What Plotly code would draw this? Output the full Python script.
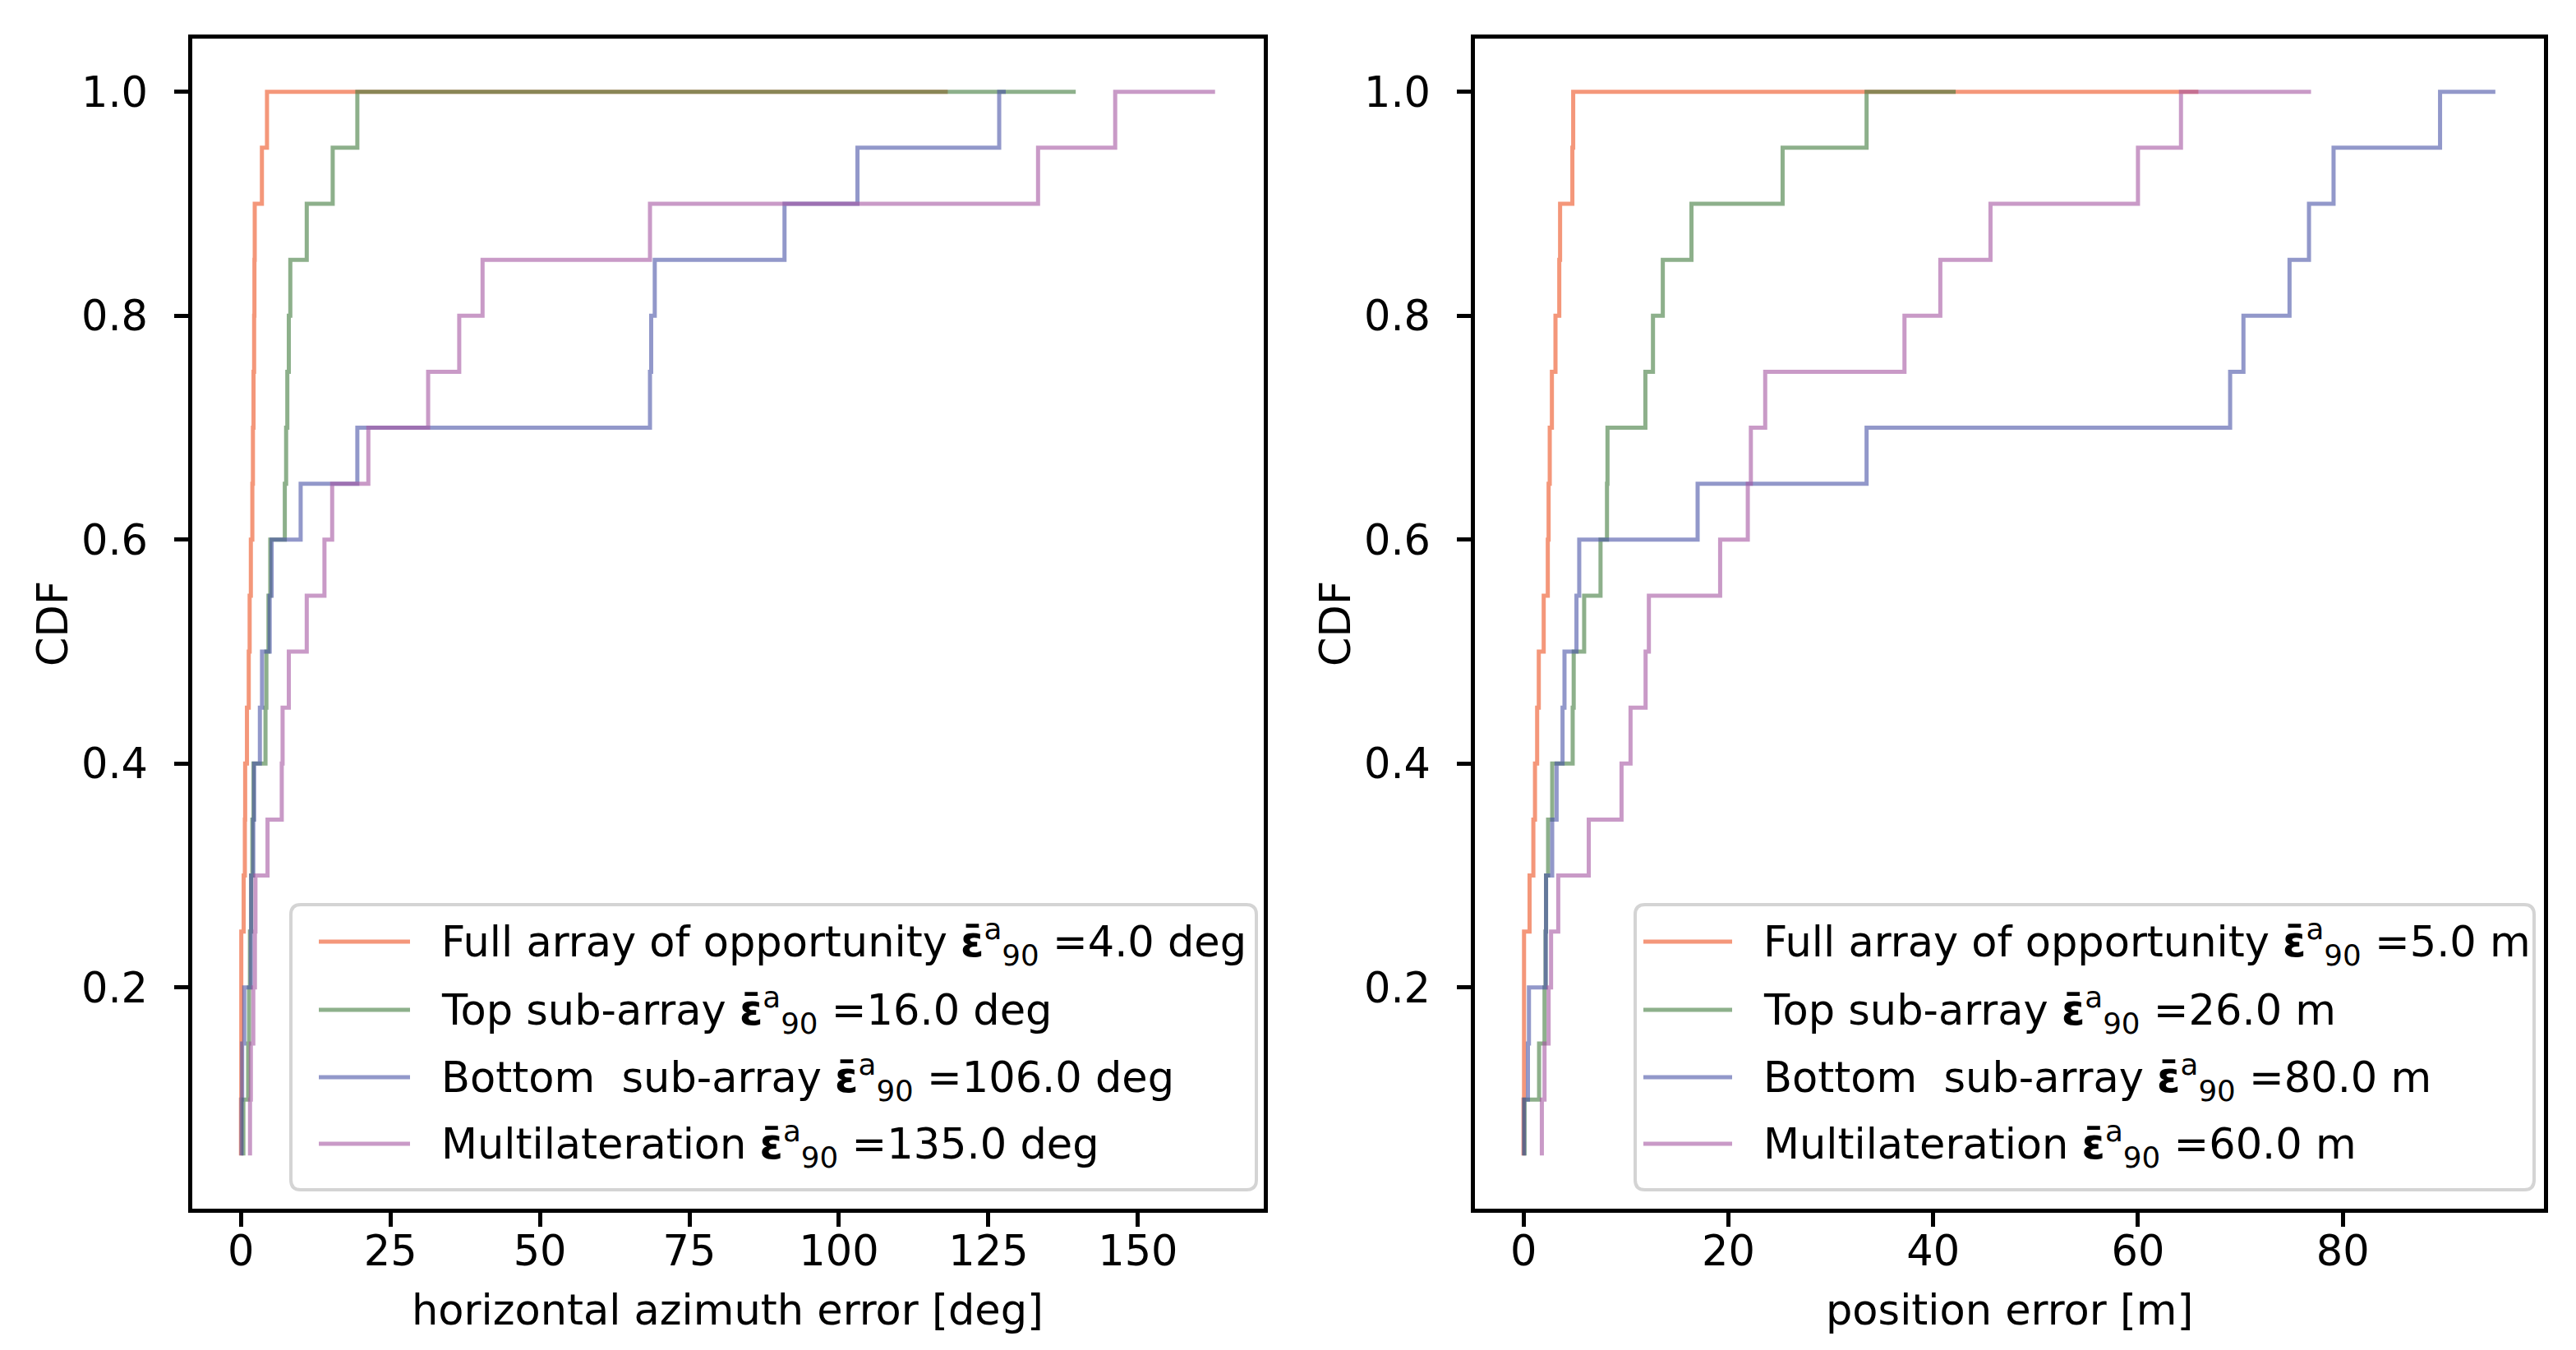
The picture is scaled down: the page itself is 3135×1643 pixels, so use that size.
import numpy as np
import plotly.graph_objects as go

W, H = 3135, 1643
FONT = "DejaVu Sans"
FS = 51

# ---------------- data (sorted error samples, 20 runs each) ----------------
levels = [(i + 1) / 20 for i in range(20)]

# horizontal azimuth error [deg]
az_full = [0.0, 0.05, 0.05, 0.05, 0.45, 0.65, 0.7, 1.0, 1.3, 1.45, 1.65, 1.9, 2.0, 2.1, 2.2, 2.25, 2.3, 3.5, 4.35, 118.2]
az_top = [0.4, 1.2, 1.35, 1.5, 1.7, 1.9, 2.1, 4.1, 4.25, 4.6, 4.9, 7.33, 7.55, 7.75, 8.0, 8.25, 11.0, 15.34, 19.46, 139.6]
az_bottom = [0.1, 0.2, 0.55, 1.65, 1.7, 2.06, 2.2, 3.16, 3.52, 4.8, 5.13, 9.98, 19.46, 68.4, 68.6, 69.2, 90.9, 103.1, 126.8, 127.9]
az_multi = [1.51, 1.65, 2.06, 2.33, 2.42, 4.44, 6.82, 6.96, 8.0, 11.0, 13.96, 15.25, 21.3, 31.3, 36.5, 40.4, 68.4, 133.3, 146.2, 162.9]

# position error [m]
pos_full = [0.0, 0.05, 0.05, 0.05, 0.59, 0.96, 1.12, 1.33, 1.49, 1.97, 2.37, 2.45, 2.56, 2.77, 3.12, 3.49, 3.57, 4.77, 4.85, 65.9]
pos_top = [0.1, 1.52, 2.05, 2.15, 2.2, 2.4, 2.8, 4.8, 4.9, 5.92, 7.52, 8.15, 8.2, 11.9, 12.64, 13.6, 16.4, 25.3, 33.5, 42.2]
pos_bottom = [0.05, 0.43, 0.53, 2.17, 2.2, 2.8, 3.23, 3.81, 4.0, 5.17, 5.44, 17.0, 33.5, 69.0, 70.3, 74.8, 76.7, 79.1, 89.5, 94.9]
pos_multi = [1.79, 2.05, 2.45, 2.69, 3.39, 6.37, 9.57, 10.45, 11.92, 12.24, 19.2, 21.9, 22.2, 23.6, 37.2, 40.7, 45.6, 60.0, 64.2, 76.9]

series_names = ["Full array of opportunity", "Top sub-array", "Bottom\u00a0 sub-array", "Multilateration"]
az_eps90 = ["4.0", "16.0", "106.0", "135.0"]
pos_eps90 = ["5.0", "26.0", "80.0", "60.0"]

y_ticks = [0.2, 0.4, 0.6, 0.8, 1.0]
y_ticktext = ["0.2", "0.4", "0.6", "0.8", "1.0"]
az_ticks = [0, 25, 50, 75, 100, 125, 150]
pos_ticks = [0, 20, 40, 60, 80]

COLORS = ["rgba(237,82,33,0.6)", "rgba(65,123,62,0.6)", "rgba(73,83,167,0.6)", "rgba(165,87,162,0.6)"]

az_series = [az_full, az_top, az_bottom, az_multi]
pos_series = [pos_full, pos_top, pos_bottom, pos_multi]

LW = 5

fig = go.Figure()
for vals, col in zip(az_series, COLORS):
    fig.add_trace(go.Scatter(x=vals, y=levels, mode="lines", line=dict(color=col, width=LW, shape="vh"),
                             xaxis="x", yaxis="y", showlegend=False, hoverinfo="skip"))
for vals, col in zip(pos_series, COLORS):
    fig.add_trace(go.Scatter(x=vals, y=levels, mode="lines", line=dict(color=col, width=LW, shape="vh"),
                             xaxis="x2", yaxis="y2", showlegend=False, hoverinfo="skip"))


def mrange(series):
    lo = min(min(s) for s in series)
    hi = max(max(s) for s in series)
    d = hi - lo
    return [lo - 0.05 * d, hi + 0.05 * d]


ylo, yhi = min(levels), max(levels)
yr = [ylo - 0.05 * (yhi - ylo), yhi + 0.05 * (yhi - ylo)]

axis_common = dict(showline=True, mirror=True, linecolor="black", linewidth=4.5, showgrid=False, zeroline=False,
                   ticks="outside", ticklen=17, tickwidth=4.5, tickcolor="black",
                   tickfont=dict(family=FONT, size=FS, color="black"))

TOP, BOT = 39, 1463
ydom = [1 - BOT / H, 1 - TOP / H]
L1, R1 = 226, 1530
L2, R2 = 1787, 3088

fig.update_layout(
    width=W, height=H, margin=dict(l=0, r=0, t=0, b=0), autosize=False,
    paper_bgcolor="white", plot_bgcolor="white",
    xaxis=dict(domain=[L1 / W, R1 / W], range=mrange(az_series), tickvals=az_ticks, anchor="y",
               ticklabelstandoff=-14, **axis_common),
    yaxis=dict(domain=ydom, range=yr, tickvals=y_ticks, ticktext=y_ticktext, anchor="x",
               ticklabelstandoff=22, **axis_common),
    xaxis2=dict(domain=[L2 / W, R2 / W], range=mrange(pos_series), tickvals=pos_ticks, anchor="y2",
                ticklabelstandoff=-14, **axis_common),
    yaxis2=dict(domain=ydom, range=yr, tickvals=y_ticks, ticktext=y_ticktext, anchor="x2",
                ticklabelstandoff=22, **axis_common),
)


def P(x, y):
    return x / W, 1 - y / H


annotations = []
shapes = []

# axis titles
for cx, txt in [((L1 + R1) / 2, "horizontal azimuth error [deg]"), ((L2 + R2) / 2, "position error [m]")]:
    px, py = P(cx, 1586)
    annotations.append(dict(x=px, y=py, xref="paper", yref="paper", text=txt, showarrow=False,
                            xanchor="center", yanchor="middle", font=dict(family=FONT, size=FS, color="black")))
for cx in [56, 56 + (L2 - L1)]:
    px, py = P(cx, (TOP + BOT) / 2)
    annotations.append(dict(x=px, y=py, xref="paper", yref="paper", text="CDF", showarrow=False, textangle=-90,
                            xanchor="center", yanchor="middle", font=dict(family=FONT, size=FS, color="black")))


def rrect(x0, y0, x1, y1, r):
    def f(x, y):
        a, b = P(x, y)
        return f"{a:.6f},{b:.6f}"
    return (f"M{f(x0 + r, y0)} L{f(x1 - r, y0)} Q{f(x1, y0)} {f(x1, y0 + r)} L{f(x1, y1 - r)} "
            f"Q{f(x1, y1)} {f(x1 - r, y1)} L{f(x0 + r, y1)} Q{f(x0, y1)} {f(x0, y1 - r)} "
            f"L{f(x0, y0 + r)} Q{f(x0, y0)} {f(x0 + r, y0)} Z")


row_y = [1138, 1221, 1303, 1384]
legends = [
    dict(box=(346, 1093, 1521, 1440), line=(380, 491), text_x=527, vals=az_eps90, unit="deg"),
    dict(box=(1982, 1093, 3076, 1440), line=(1992, 2100), text_x=2136, vals=pos_eps90, unit="m"),
]
for lg in legends:
    x0, y0, x1, y1 = lg["box"]
    shapes.append(dict(type="path", xref="paper", yref="paper", path=rrect(x0, y0, x1, y1, 12),
                       line=dict(color="#d4d4d4", width=4), fillcolor="white", layer="above"))
    for i, (name, val, col) in enumerate(zip(series_names, lg["vals"], COLORS)):
        a, yy = P(lg["line"][0], row_y[i])
        b, _ = P(lg["line"][1], row_y[i])
        shapes.append(dict(type="line", xref="paper", yref="paper", x0=a, x1=b, y0=yy, y1=yy,
                           line=dict(color=col, width=LW), layer="above"))
        tx, _ = P(lg["text_x"], row_y[i])
        label = f"{name} <b>\u03b5\u0304</b><sup>a</sup><sub>90</sub> ={val} {lg['unit']}"
        annotations.append(dict(x=tx, y=yy, xref="paper", yref="paper", text=label, showarrow=False,
                                xanchor="left", yanchor="middle", font=dict(family=FONT, size=FS, color="black")))

fig.update_layout(annotations=annotations, shapes=shapes)
fig.write_html("out.html")
